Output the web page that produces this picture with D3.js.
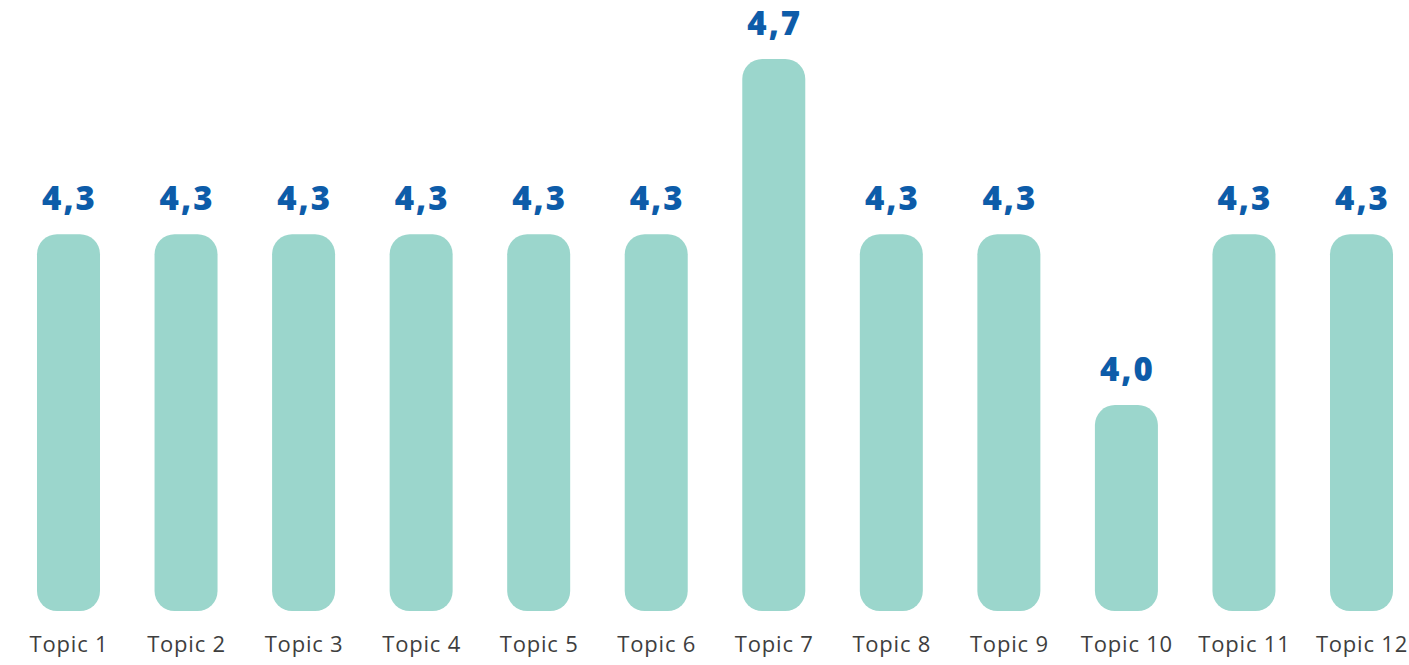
<!DOCTYPE html>
<html>
<head>
<meta charset="utf-8">
<script src="https://cdn.jsdelivr.net/npm/d3@7"></script>
<style>
  html, body { margin: 0; padding: 0; background: #ffffff; }
  svg { display: block; }
</style>
</head>
<body>
<svg id="chart" width="1409" height="665"></svg>
<script>
const categories = ["Topic 1","Topic 2","Topic 3","Topic 4","Topic 5","Topic 6","Topic 7","Topic 8","Topic 9","Topic 10","Topic 11","Topic 12"];
const values = [4.3, 4.3, 4.3, 4.3, 4.3, 4.3, 4.7, 4.3, 4.3, 3.91, 4.3, 4.3];
const valueLabels = ["4,3","4,3","4,3","4,3","4,3","4,3","4,7","4,3","4,3","4,0","4,3","4,3"];

const svg = d3.select("#chart");
const baseY = 611;

const x = d3.scalePoint().domain(categories).range([68.5, 1361.5]);
const y = d3.scaleLinear().domain([3.44, 4.7]).range([baseY, 59]);
const barW = 63, r = 20;

const data = categories.map((c, i) => ({ c, v: values[i], lab: valueLabels[i] }));

svg.append("g").selectAll("rect").data(data).join("rect")
  .attr("x", d => x(d.c) - barW / 2)
  .attr("y", d => y(d.v))
  .attr("width", barW)
  .attr("height", d => baseY - y(d.v))
  .attr("rx", r).attr("ry", r)
  .attr("fill", "#9bd6cc");

svg.append("g").selectAll("text").data(data).join("text")
  .attr("x", d => x(d.c) + 1)
  .attr("y", d => y(d.v) - 24)
  .attr("text-anchor", "middle")
  .attr("font-family", "'Open Sans', 'Noto Sans', sans-serif")
  .attr("font-weight", 800)
  .attr("font-size", 33)
  .attr("letter-spacing", "2px")
  .attr("fill", "#0d5ca9")
  .text(d => d.lab);

const xAxis = d3.axisBottom(x).tickSize(0).tickPadding(0);
const gx = svg.append("g").attr("transform", `translate(0, ${baseY})`).call(xAxis);
gx.select(".domain").remove();
gx.selectAll("text")
  .attr("dy", 0)
  .attr("y", 41)
  .attr("font-family", "'Open Sans', 'Noto Sans', sans-serif")
  .attr("font-size", 22)
  .attr("letter-spacing", "0.8px")
  .attr("fill", "#3e3e3e");
</script>
</body>
</html>
